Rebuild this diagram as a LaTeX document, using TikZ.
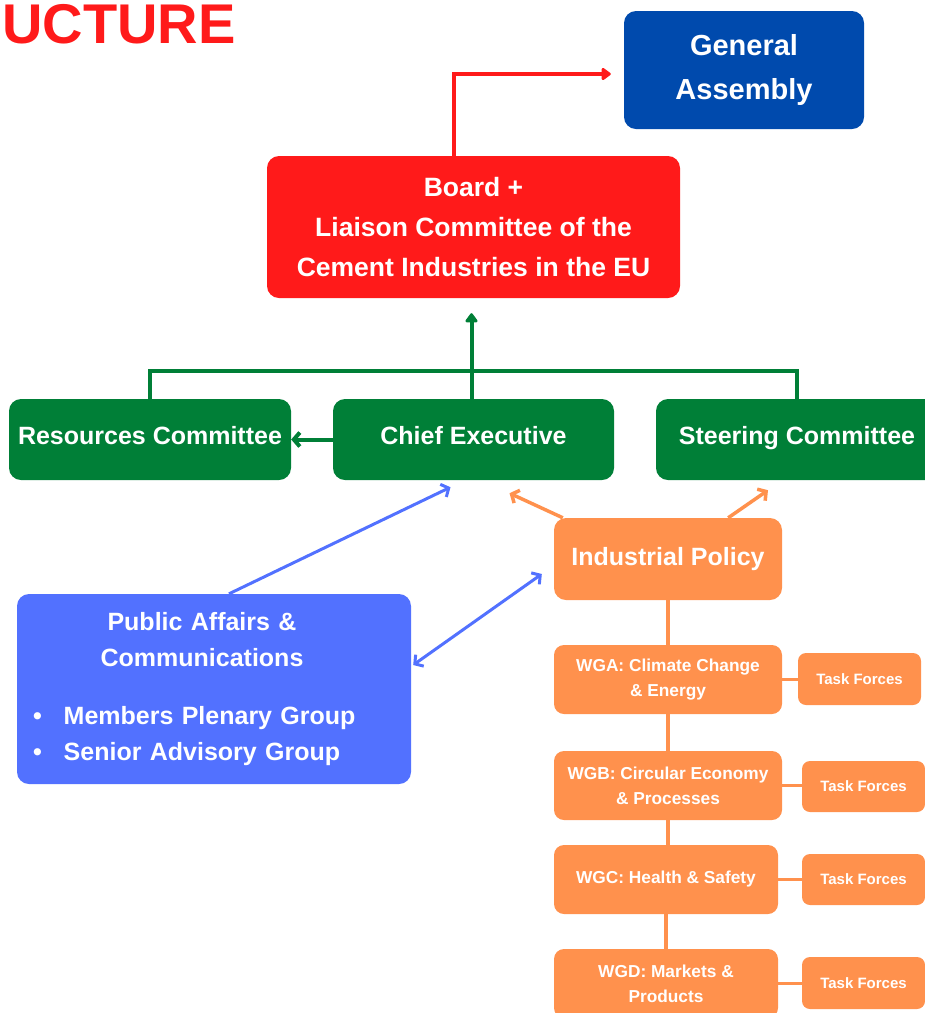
\documentclass[tikz,border=0pt]{standalone}
\usepackage{fontspec}
\setmainfont{Liberation Sans}
\usepackage{tikz}
\usetikzlibrary{shapes, arrows.meta, positioning}
\definecolor{cemred}{HTML}{FF1A1A}
\definecolor{gablue}{HTML}{004AAD}
\definecolor{cemgreen}{HTML}{007F37}
\definecolor{iporange}{HTML}{FF914D}
\definecolor{pablue}{HTML}{5271FF}
\tikzset{box/.style={rectangle, rounded corners=12pt, text=white, align=center, inner sep=0pt},
  ga node/.style={box, fill=gablue, minimum width=240pt, minimum height=118pt, font=\bfseries\fontsize{29}{44}\selectfont},
  board node/.style={box, fill=cemred, minimum width=413pt, minimum height=142pt, font=\bfseries\fontsize{26.5}{40}\selectfont},
  green node/.style={box, fill=cemgreen, minimum width=282pt, minimum height=81pt, text height=18pt, text depth=9pt, font=\bfseries\fontsize{25}{30}\selectfont},
  ip node/.style={box, fill=iporange, minimum width=228pt, minimum height=82pt, font=\bfseries\fontsize{25}{30}\selectfont},
  pa node/.style={box, fill=pablue, minimum width=394pt, minimum height=190pt, text width=368pt, inner xsep=13pt, align=left, font=\bfseries\fontsize{25}{36}\selectfont},
  wg node/.style={box, rounded corners=10pt, fill=iporange, minimum width=228pt, minimum height=69pt, font=\bfseries\fontsize{17.3}{25}\selectfont},
  task node/.style={box, rounded corners=8pt, fill=iporange, minimum width=123pt, minimum height=52pt, font=\bfseries\fontsize{15}{18}\selectfont},
  arrow/.style={-{Triangle[length=10pt, width=14pt, round]}, line width=4pt},
  chevron/.style={-{Straight Barb[length=6pt, width=14pt]}, line width=3.5pt},
  double chevron/.style={{Straight Barb[length=6pt, width=14pt]}-{Straight Barb[length=6pt, width=14pt]}, line width=3pt},
  link/.style={line width=3.5pt}
}

\begin{document}
\begin{tikzpicture}[x=1pt, y=-1pt]
  \useasboundingbox (0,0) rectangle (925,1013);
  % Title
  \node[anchor=base east, inner sep=0pt, text=cemred, font=\bfseries\fontsize{56}{60}\selectfont] (title) at (236,43) {UCTURE};
  % Top
  \node[ga node] (ga) at (744,70) {General\\Assembly};
  \node[board node] (board) at (473.5,227) {Board +\\Liaison Committee of the\\Cement Industries in the EU};
  % Committees
  \node[green node] (res) at (150,439.5) {Resources Committee};
  \node[green node, minimum width=281pt] (chief) at (473.5,439.5) {Chief Executive};
  \node[green node] (steer) at (797,439.5) {Steering Committee};
  % Industrial Policy and Public Affairs
  \node[ip node] (ip) at (668,559) {Industrial Policy};
  \node[pa node] (pa) at (214,689) {\makebox[344pt]{Public Affairs \&}\\\makebox[344pt]{Communications}\\[22pt]\hspace*{3pt}\textbullet\hspace{22pt}Members Plenary Group\\\hspace*{3pt}\textbullet\hspace{22pt}Senior Advisory Group};
  % Working Groups
  \node[wg node] (wga) at (668,679.5) {WGA: Climate Change\\\& Energy};
  \node[wg node] (wgb) at (668,785.5) {WGB: Circular Economy\\\& Processes};
  \node[wg node, minimum width=224pt] (wgc) at (666,879.5) {WGC: Health \& Safety};
  \node[wg node, minimum width=224pt] (wgd) at (666,983.5) {WGD: Markets \&\\Products};
  % Task Forces
  \node[task node] (tfa) at (859.5,679) {Task Forces};
  \node[task node, minimum height=51pt] (tfb) at (863.5,786.5) {Task Forces};
  \node[task node, minimum height=51pt] (tfc) at (863.5,879.5) {Task Forces};
  \node[task node] (tfd) at (863.5,983) {Task Forces};
  % Connections
  \draw[arrow, cemred, shorten >=13pt] ([xshift=-20pt]board.north) |- ([yshift=-4pt]ga.west);
  \draw[arrow, cemgreen, shorten >=15pt] ([xshift=-2pt]chief.north) -- ([xshift=-2pt]board.south);
  \draw[link, line width=4pt, cemgreen] (res.north) -- ++(0,-28) -| (steer.north);
  \draw[chevron, line width=4pt, cemgreen] (chief.west) -- (res.east);
  \draw[chevron, pablue, line width=3pt] ([xshift=15pt]pa.north) -- ([xshift=-23pt, yshift=-7pt]chief.south);
  \draw[double chevron, pablue] ([xshift=2pt, yshift=24pt]pa.east) -- ([xshift=-12pt, yshift=-15pt]ip.west);
  \draw[chevron, iporange] ([xshift=9pt]ip.north west) -- ([xshift=36pt, yshift=-13pt]chief.south);
  \draw[chevron, iporange] ([xshift=-54pt]ip.north east) -- ([xshift=-29pt, yshift=-10pt]steer.south);
  \foreach \a/\b in {ip/wga, wga/wgb, wgb/wgc, wgc/wgd}
    \draw[link, iporange] (\a.south) -- (\a.south |- \b.north);
  \foreach \a/\b in {wga/tfa, wgb/tfb, wgc/tfc, wgd/tfd}
    \draw[link, iporange] (\a.east) -- (\a.east -| \b.west);
\end{tikzpicture}
\end{document}
